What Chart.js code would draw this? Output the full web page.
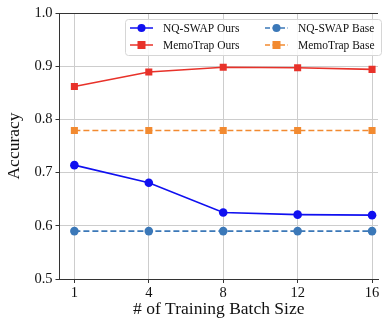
<!DOCTYPE html>
<html>
<head>
<meta charset="utf-8">
<script src="https://cdn.jsdelivr.net/npm/chart.js@4.4.0/dist/chart.umd.min.js"></script>
<style>
  html, body { margin: 0; padding: 0; background: #fff; overflow: hidden; }
  #wrap { width: 383px; height: 318px; position: relative; }
</style>
</head>
<body>
<div id="wrap"><canvas id="chart"></canvas></div>
<script>
// data
const batchSizes = ['1', '4', '8', '12', '16'];
const nqSwapOurs = [0.714, 0.681, 0.625, 0.621, 0.620];
const memoTrapOurs = [0.862, 0.889, 0.898, 0.897, 0.894];
const nqSwapBase = [0.590, 0.590, 0.590, 0.590, 0.590];
const memoTrapBase = [0.779, 0.779, 0.779, 0.779, 0.779];
const yTicks = [0.5, 0.6, 0.7, 0.8, 0.9, 1.0];

const FONT = "'Liberation Serif', 'Times New Roman', serif";

// batch sizes are plotted evenly spaced (categorical positions)
function pts(ys) {
    return batchSizes.map((b, i) => ({ x: i, y: ys[i] }));
}

const series = [
    { label: 'NQ-SWAP Ours', data: nqSwapOurs, color: '#1010f0', style: 'circle', dash: [] },
    { label: 'MemoTrap Ours', data: memoTrapOurs, color: '#e8322a', style: 'rect', dash: [] },
    { label: 'NQ-SWAP Base', data: nqSwapBase, color: '#3b78b8', style: 'circle', dash: [6, 3] },
    { label: 'MemoTrap Base', data: memoTrapBase, color: '#f28a30', style: 'rect', dash: [6, 3] }
];

// legend drawn inside the plot, two columns like the original figure
const boxLegend = {
    id: 'boxLegend',
    afterDraw(chart) {
        const ctx = chart.ctx;
        ctx.save();
        const x0 = 125.5, y0 = 19.5, w = 256, h = 36;
        ctx.beginPath();
        ctx.roundRect(x0, y0, w, h, 3);
        ctx.fillStyle = 'rgba(255,255,255,0.85)';
        ctx.fill();
        ctx.strokeStyle = '#d6d6d6';
        ctx.lineWidth = 1;
        ctx.stroke();

        const cols = [{ lx: 130, tx: 163 }, { lx: 265, tx: 298 }];
        const rows = [28, 45];
        series.forEach((s, i) => {
            const c = cols[Math.floor(i / 2)];
            const y = rows[i % 2];
            ctx.strokeStyle = s.color;
            ctx.lineWidth = 1.5;
            ctx.setLineDash(s.dash.length ? [5, 2.5] : []);
            ctx.beginPath();
            ctx.moveTo(c.lx, y);
            ctx.lineTo(c.lx + 23, y);
            ctx.stroke();
            ctx.setLineDash([]);
            ctx.fillStyle = s.color;
            const mx = c.lx + 11.5;
            if (s.style === 'circle') {
                ctx.beginPath();
                ctx.arc(mx, y, 4, 0, Math.PI * 2);
                ctx.fill();
            } else {
                ctx.fillRect(mx - 4, y - 4, 8, 8);
            }
            ctx.fillStyle = '#111';
            ctx.font = '11.5px ' + FONT;
            ctx.textBaseline = 'middle';
            ctx.fillText(s.label, c.tx, y + 0.5);
        });
        ctx.restore();
    }
};

// top spine
const topSpine = {
    id: 'topSpine',
    afterDatasetsDraw(chart) {
        const a = chart.chartArea, ctx = chart.ctx;
        ctx.save();
        ctx.strokeStyle = '#333';
        ctx.lineWidth = 1;
        ctx.beginPath();
        ctx.moveTo(a.left, a.top + 0.5);
        ctx.lineTo(a.right, a.top + 0.5);
        ctx.stroke();
        ctx.restore();
    }
};

new Chart(document.getElementById('chart'), {
    type: 'line',
    data: {
        datasets: series.map(s => ({
            label: s.label,
            data: pts(s.data),
            borderColor: s.color,
            backgroundColor: s.color,
            borderWidth: 1.6,
            borderDash: s.dash,
            pointStyle: s.style,
            pointRadius: s.style === 'circle' ? 4.3 : 5,
            pointBorderWidth: 0,
            tension: 0,
            fill: false
        }))
    },
    options: {
        responsive: true,
        maintainAspectRatio: false,
        animation: false,
        devicePixelRatio: 1,
        layout: { padding: { top: 13, right: 0, left: 0, bottom: 0 } },
        plugins: {
            legend: { display: false },
            tooltip: { enabled: false }
        },
        scales: {
            x: {
                type: 'linear',
                min: -0.2,
                max: 4.08,
                afterBuildTicks(axis) { axis.ticks = batchSizes.map((b, i) => ({ value: i })); },
                afterFit(axis) { axis.height = 39; },
                grid: { color: '#cdcdcd', lineWidth: 1, tickLength: 4, tickColor: '#333' },
                border: { color: '#333', width: 1 },
                ticks: {
                    color: '#111',
                    font: { family: FONT, size: 14.5 },
                    padding: 1,
                    maxRotation: 0,
                    autoSkip: false,
                    callback: v => batchSizes[v]
                },
                title: {
                    display: true,
                    text: '# of Training Batch Size',
                    color: '#111',
                    font: { family: FONT, size: 17.5 },
                    padding: { top: 0, bottom: -2 }
                }
            },
            y: {
                min: 0.5,
                max: 1.0,
                afterBuildTicks(axis) { axis.ticks = yTicks.map(v => ({ value: v })); },
                afterFit(axis) { axis.width = 59.5; },
                grid: { color: '#cdcdcd', lineWidth: 1, tickLength: 4, tickColor: '#333' },
                border: { color: '#333', width: 1 },
                ticks: {
                    color: '#111',
                    font: { family: FONT, size: 14.5 },
                    padding: 3,
                    callback: v => v.toFixed(1)
                },
                title: {
                    display: true,
                    text: 'Accuracy',
                    color: '#111',
                    font: { family: FONT, size: 17.5 },
                    padding: { top: 4, bottom: 3 }
                }
            }
        }
    },
    plugins: [topSpine, boxLegend]
});
</script>
</body>
</html>
